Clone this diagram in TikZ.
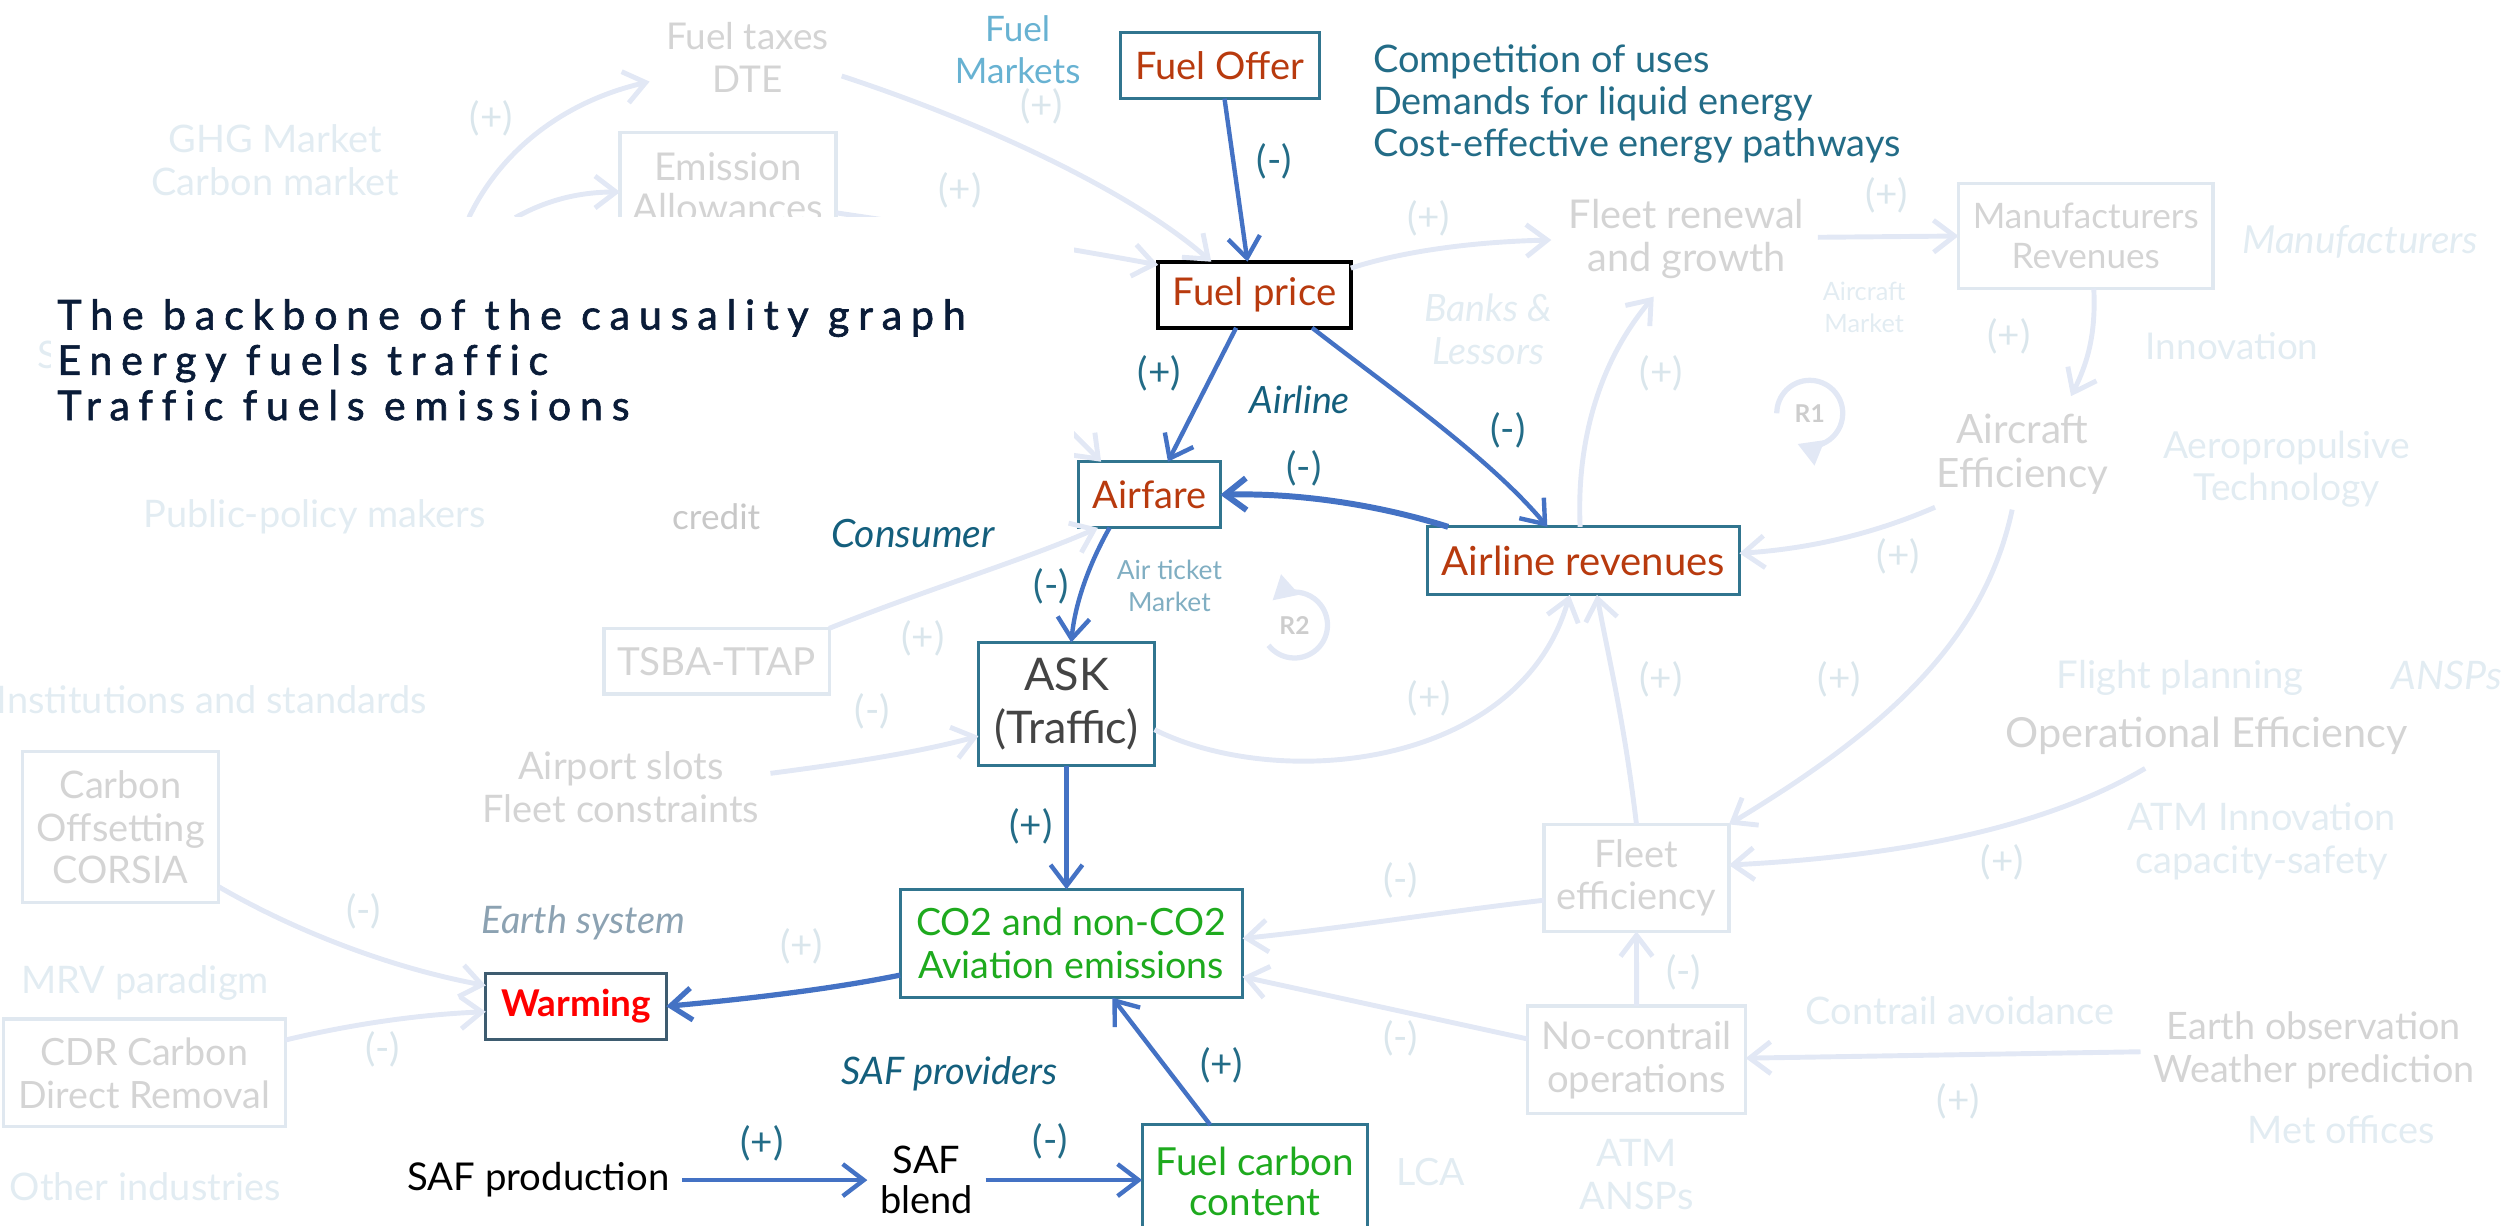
\documentclass[tikz,border=0pt]{standalone}
\usepackage{fontspec}
\setmainfont{Lato}
\newfontfamily\titlefont{Lato}[LetterSpace=21.5,FakeBold=1.5,Ligatures=NoCommon]
\usetikzlibrary{arrows.meta}

\definecolor{boxteal}{RGB}{49,117,143}
\definecolor{nodered}{RGB}{184,58,14}
\definecolor{arrowblue}{RGB}{68,114,196}
\definecolor{signteal}{RGB}{35,108,135}
\definecolor{italteal}{RGB}{20,95,125}
\definecolor{paleline}{RGB}{226,232,245}
\definecolor{paleborder}{RGB}{224,232,240}
\definecolor{palesign}{RGB}{218,230,236}
\definecolor{greytext}{RGB}{212,212,212}
\definecolor{credgrey}{RGB}{200,200,200}
\definecolor{paletext}{RGB}{226,236,242}
\definecolor{emisgreen}{RGB}{30,170,30}
\definecolor{warmborder}{RGB}{62,92,112}
\definecolor{asktext}{RGB}{68,68,68}
\definecolor{earthgrey}{RGB}{140,162,178}
\definecolor{ticketblue}{RGB}{128,174,194}
\definecolor{marketblue}{RGB}{104,178,210}
\definecolor{titlenavy}{RGB}{10,28,56}
\definecolor{loopgrey}{RGB}{205,205,205}

\newdimen\sx \sx=0.016cm
\newcommand{\fsz}[1]{\fontsize{#1}{12.2}\selectfont}

\begin{document}
\begin{tikzpicture}[x=0.016cm,y=-0.016cm,
  every node/.style={inner sep=0pt,outer sep=0pt,align=center},
  barb/.tip={Straight Barb[length=2.1mm,width=3.2mm]},
  mainbox/.style={draw=boxteal,line width=0.9pt,fill=white,text=nodered,font=\fsz{10.8}},
  palebox/.style={draw=paleborder,line width=0.9pt,text=greytext,font=\fsz{10.8}},
  mainarrow/.style={draw=arrowblue,line width=1.25pt,-{barb}},
  palearrow/.style={draw=paleline,line width=1.4pt,-{barb}},
  sgn/.style={text=signteal,font=\fsz{11}},
  psgn/.style={text=palesign,font=\fsz{11}},
  grey/.style={text=greytext,font=\fsz{10.8}},
  faint/.style={text=paletext,font=\fsz{10.8}},
  loopline/.style={draw=paleline,line width=1.5pt,-{Triangle[length=2.4mm,width=2.6mm]}},
  looplabel/.style={text=loopgrey,font=\bfseries\fontsize{7}{8}\selectfont},
]
\path[use as bounding box] (0,0) rectangle (1568,765.6);

% ---------- main causal chain (boxes) ----------
\node[mainbox,minimum width=124.5\sx,minimum height=41.3\sx] (offer) at (762.25,41) {Fuel Offer};
\node[mainbox,draw=black,line width=1.2pt,font=\fsz{10.9},minimum width=120.4\sx,minimum height=41.3\sx] (price) at (784,184.2) {Fuel price};
\node[mainbox,minimum width=88.5\sx,minimum height=41.3\sx] (airfare) at (718.4,309.2) {Airfare};
\node[mainbox,font=\fsz{11.4},minimum width=195\sx,minimum height=42.5\sx] (revenues) at (989.5,350.5) {Airline revenues};
\node[mainbox,text=asktext,font=\fontsize{12.8}{15.1}\selectfont,minimum width=110\sx,minimum height=77\sx] (ask) at (666.5,440) {ASK\\(Traffic)};
\node[mainbox,text=emisgreen,font=\fontsize{10.7}{12.3}\selectfont,minimum width=214\sx,minimum height=67.7\sx] (co2) at (669.5,589.7) {CO2 and non-CO2\\Aviation emissions};
\node[mainbox,draw=warmborder,text=red,font=\bfseries\fsz{10.5},minimum width=112.8\sx,minimum height=41\sx] (warming) at (360,628.9) {Warming};
\node[mainbox,text=emisgreen,font=\fontsize{11}{11.3}\selectfont,minimum width=141\sx,minimum height=71\sx] (fcc) at (784.3,738.5) {Fuel carbon\\content};
\node[font=\fsz{10.9},inner xsep=8\sx] (prod) at (336.5,737.5) {SAF production};
\node[font=\fontsize{10.8}{11.3}\selectfont,inner xsep=8\sx] (blend) at (579,737.5) {SAF\\blend};

% ---------- background actors and secondary variables ----------
\node[faint] (ghg) at (172,100) {GHG Market\\Carbon market};
\node[grey,font=\fsz{10.5}] (taxes) at (467,36) {Fuel taxes\\DTE};
\node[palebox,font=\fontsize{10.9}{11.8}\selectfont,minimum width=135\sx,minimum height=68\sx] (emis) at (455,117) {Emission\\Allowances};
\node[faint] (sfrag) at (30,222) {S};
\node[faint] (policy) at (196.7,323) {Public-policy makers};
\node[text=credgrey] (credit) at (447.6,323) {credit};
\node[palebox,font=\fsz{11},minimum width=140.7\sx,minimum height=41\sx] (tsba) at (447.8,413.2) {TSBA-TTAP};
\node[faint] (inst) at (132.5,437.5) {Institutions and standards};
\node[grey] (slots) at (388,492) {Airport slots\\Fleet constraints};
\node[palebox,font=\fontsize{10.8}{12}\selectfont,minimum width=122.7\sx,minimum height=94.4\sx] (corsia) at (75.4,517) {Carbon\\Offsetting\\CORSIA};
\node[faint] (mrv) at (90.7,614.6) {MRV paradigm};
\node[palebox,font=\fsz{10.7},minimum width=176.2\sx,minimum height=67.3\sx] (cdr) at (90.1,670.5) {CDR Carbon\\Direct Removal};
\node[faint] (otherind) at (90.7,741.7) {Other industries};

\node[grey,font=\fontsize{11.3}{12.4}\selectfont] (fleetren) at (1054,149.5) {Fleet renewal\\and growth};
\node[palebox,font=\fontsize{10}{11.5}\selectfont,minimum width=159\sx,minimum height=65.6\sx] (manuf) at (1303.5,147.5) {Manufacturers\\Revenues};
\node[faint,font=\itshape\fsz{11}] (manufit) at (1475,151) {Manufacturers};
\node[faint,font=\fontsize{7.2}{9.1}\selectfont] (acmarket) at (1165,192) {Aircraft\\Market};
\node[faint,font=\fsz{10.5}] (innov) at (1395,216.3) {Innovation};
\node[grey,font=\fontsize{11.5}{12.5}\selectfont] (aceff) at (1264,284) {Aircraft\\Efficiency};
\node[faint,font=\fontsize{10.6}{12}\selectfont] (aero) at (1429,293) {Aeropropulsive\\Technology};
\node[faint,font=\itshape\fsz{10.7}] (banks) at (930,206) {Banks \&\\Lessors};
\node[faint,font=\fsz{10.9}] (flightplan) at (1362.5,423.5) {Flight planning};
\node[faint,font=\itshape\fsz{11.2}] (ansps) at (1529,422) {ANSPs};
\node[grey,font=\fsz{11.8}] (opeff) at (1379,460) {Operational Efficiency};
\node[faint] (atminno) at (1413.5,526) {ATM Innovation\\capacity-safety};
\node[palebox,minimum width=115.6\sx,minimum height=66.8\sx] (fleff) at (1022.7,548.6) {Fleet\\efficiency};
\node[palebox,font=\fsz{10.9},minimum width=136.3\sx,minimum height=67.3\sx] (nocon) at (1022.8,662.3) {No-contrail\\operations};
\node[faint] (contrail) at (1225,631.6) {Contrail avoidance};
\node[grey,font=\fsz{10.75}] (earthobs) at (1446,656.6) {Earth observation\\Weather prediction};
\node[faint] (metoff) at (1463,706) {Met offices};
\node[faint] (atmansps) at (1022.8,734.3) {ATM\\ANSPs};
\node[faint,font=\fsz{10.7}] (lca) at (894.3,732.3) {LCA};

% free ends of the secondary connectors
\coordinate (ghg-out) at (293,136);
\coordinate (taxes-in) at (406,51);
\coordinate (emis-src) at (322,136);
\coordinate (taxes-out) at (526,47.5);
\coordinate (credit-out) at (650,250);
\coordinate (fleetren-in) at (969.5,150);
\coordinate (fleetren-in2) at (1033.5,185.4);
\coordinate (fleetren-out) at (1136,148.3);
\coordinate (aceff-in) at (1294.3,247.6);
\coordinate (aceff-out1) at (1209.3,317);
\coordinate (aceff-out2) at (1257.5,318.5);
\coordinate (slots-out) at (481.5,483.3);
\coordinate (opeff-out) at (1340.6,480.2);
\coordinate (earthobs-out) at (1337.7,657.3);

% ---------- secondary connectors ----------
\draw[palearrow] (ghg-out) .. controls (312,96) and (350,64) .. (taxes-in);
\draw[palearrow] (emis-src) .. controls (340,126) and (360,120) .. ([yshift=-3\sx]emis.west);
\draw[palearrow] (taxes-out) .. controls (610,75) and (705,118) .. ([xshift=-27\sx]price.north);
\draw[palearrow] ([yshift=-16\sx]emis.east) .. controls (590,143) and (650,152) .. ([yshift=-2\sx]price.north west);
\draw[palearrow] (credit-out) -- ([xshift=14\sx]airfare.north west);
\draw[palearrow] ([yshift=-4\sx]price.north east) .. controls (880,156) and (925,151) .. (fleetren-in);
\draw[palearrow] (fleetren-out) -- (manuf.west);
\draw[palearrow] ([xshift=5\sx]manuf.south) .. controls (1310,210) and (1304,228) .. (aceff-in);
\draw[palearrow] ([xshift=-2\sx]revenues.north) .. controls (985,275) and (1000,225) .. (fleetren-in2);
\draw[palearrow] (aceff-out1) .. controls (1170,334) and (1130,343) .. ([yshift=4.7\sx]revenues.east);
\draw[palearrow] (aceff-out2) .. controls (1240,400) and (1180,455) .. (fleff.north east);
\draw[palearrow] (tsba.north east) .. controls (580,368) and (640,350) .. ([xshift=12\sx]airfare.south west);
\draw[palearrow] (slots-out) .. controls (530,477) and (575,470) .. ([yshift=-20\sx]ask.west);
\draw[palearrow] ([yshift=-16\sx]ask.east) .. controls (800,495) and (950,480) .. ([xshift=-8.5\sx]revenues.south);
\draw[palearrow] (fleff.north) .. controls (1015,450) and (1005,410) .. ([xshift=8.5\sx]revenues.south);
\draw[palearrow] (opeff-out) .. controls (1270,522) and (1170,536) .. ([yshift=8\sx]fleff.east);
\draw[palearrow] ([yshift=-14\sx]fleff.west) .. controls (900,570) and (840,580) .. ([yshift=3.2\sx]co2.east);
\draw[palearrow] (nocon.north) -- (fleff.south);
\draw[palearrow] ([yshift=13\sx]nocon.west) -- ([yshift=-20.7\sx]co2.east);
\draw[palearrow] (earthobs-out) -- ([yshift=1\sx]nocon.east);
\draw[palearrow] ([yshift=10\sx]corsia.south east) .. controls (190,585) and (250,606) .. ([yshift=13\sx]warming.west);
\draw[palearrow] ([yshift=20.5\sx]cdr.east) .. controls (220,640) and (262,634) .. ([yshift=-3.4\sx]warming.west);

% reinforcing loops
\coordinate (r1) at (1131,258.3);
\coordinate (r2) at (809,390.6);
\draw[loopline] ([shift={(180:0.33cm)}]r1) arc[start angle=180,end angle=-112,radius=0.33cm];
\node[looplabel] (r1lbl) at (r1) {R1};
\draw[loopline] ([shift={(218:0.33cm)}]r2) arc[start angle=218,end angle=492,radius=0.33cm];
\node[looplabel] (r2lbl) at (r2) {R2};

% pale polarity labels
\node[psgn] (p1) at (307,74) {(+)};
\node[psgn] (p2) at (651,66.7) {(+)};
\node[psgn] (p3) at (600,119) {(+)};
\node[psgn] (p4) at (892.8,136.5) {(+)};
\node[psgn] (p5) at (1179,122) {(+)};
\node[psgn] (p6) at (1255.5,209.9) {(+)};
\node[psgn] (p7) at (1038.2,233.5) {(+)};
\node[psgn] (p8) at (1186.4,347.5) {(+)};
\node[psgn] (p9) at (576.7,399) {(+)};
\node[psgn] (p10) at (545.2,444.8) {(-)};
\node[psgn] (p11) at (893.3,436.5) {(+)};
\node[psgn] (p12) at (1038,424.3) {(+)};
\node[psgn] (p13) at (1149.5,424.3) {(+)};
\node[psgn] (p14) at (1251.3,538.9) {(+)};
\node[psgn] (p15) at (875.3,550) {(-)};
\node[psgn] (p16) at (1052.1,607.5) {(-)};
\node[psgn] (p17) at (875.3,649) {(-)};
\node[psgn] (p18) at (1223.9,688) {(+)};
\node[psgn] (p19) at (501,591.7) {(+)};
\node[psgn] (p20) at (227.2,569.8) {(-)};
\node[psgn] (p21) at (239.1,655.8) {(-)};

% ---------- heading over a blank panel ----------
\fill[white] (32,135.4) rectangle (671,300);
\node[anchor=north west,align=left,text=titlenavy,font=\titlefont\fontsize{11.7}{12.9}\selectfont] (title) at (35.9,187)
  {The backbone of the causality graph\\Energy fuels traffic\\Traffic fuels emissions};

% ---------- main connectors ----------
\draw[mainarrow] ([xshift=3\sx]offer.south) -- ([xshift=-4.4\sx]price.north);
\draw[mainarrow] ([xshift=-11.5\sx]price.south) -- ([xshift=11.5\sx]airfare.north);
\draw[mainarrow] ([xshift=36\sx]price.south) .. controls (865,240) and (930,285) .. ([xshift=-22.5\sx]revenues.north);
\draw[mainarrow,line width=1.7pt] ([xshift=13\sx]revenues.north west) .. controls (860,315) and (810,308) .. (airfare.east);
\draw[mainarrow] ([xshift=-25\sx]airfare.south) .. controls (682,350) and (672,375) .. ([xshift=3\sx]ask.north);
\draw[mainarrow] (ask.south) -- (ask.south |- co2.north);
\draw[mainarrow,line width=1.5pt] ([yshift=-19.7\sx]co2.west) .. controls (520,618) and (470,624) .. (warming.east);
\draw[mainarrow] ([xshift=-28\sx]fcc.north) -- ([xshift=25.7\sx]co2.south);
\draw[mainarrow] (prod.east) -- (blend.west);
\draw[mainarrow] (blend.east) -- (blend.east -| fcc.west);

% ---------- main labels ----------
\node[text=marketblue] (markets) at (636,31) {Fuel\\Markets};
\node[anchor=west,align=left,text=signteal,font=\fontsize{10.8}{11.95}\selectfont] (compet) at (858.2,65.1)
  {Competition of uses\\Demands for liquid energy\\Cost-effective energy pathways};
\node[text=italteal,font=\itshape\fsz{10.7}] (airline) at (812.3,250) {Airline};
\node[text=italteal,font=\itshape\fsz{11.1}] (consumer) at (570.5,333.3) {Consumer};
\node[text=ticketblue,font=\fontsize{7.5}{9}\selectfont] (ticket) at (730.8,366) {Air ticket\\Market};
\node[text=earthgrey,font=\itshape\fsz{10.8}] (earthsys) at (364.7,577) {Earth system};
\node[text=italteal,font=\itshape\fsz{10.8}] (safprov) at (593.4,670.8) {SAF providers};

\node[sgn] (s1) at (796.4,101) {(-)};
\node[sgn] (s2) at (724.6,233.3) {(+)};
\node[sgn] (s3) at (942.3,268.75) {(-)};
\node[sgn] (s4) at (814.8,292.7) {(-)};
\node[sgn] (s5) at (657,366.7) {(-)};
\node[sgn] (s6) at (644.3,516.5) {(+)};
\node[sgn] (s7) at (763.4,665.6) {(+)};
\node[sgn] (s8) at (476.3,714.6) {(+)};
\node[sgn] (s9) at (656.5,713.5) {(-)};
\end{tikzpicture}
\end{document}
